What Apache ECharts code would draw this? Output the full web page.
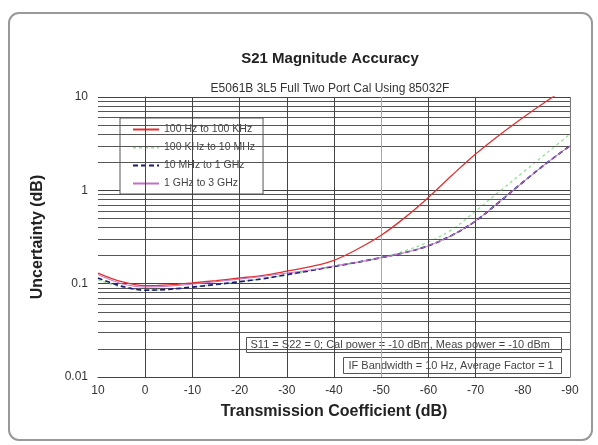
<!DOCTYPE html>
<html>
<head>
<meta charset="utf-8">
<script src="https://cdn.jsdelivr.net/npm/echarts@6/dist/echarts.min.js"></script>
<style>
  html, body { margin: 0; padding: 0; background: #fff; }
  #main { width: 598px; height: 445px; }
</style>
</head>
<body>
<div id="main"></div>
<script>
// S21 magnitude accuracy
const xValues = [10, 5, 0, -5, -10, -15, -20, -25, -30, -35, -40, -45, -50, -55, -60, -65, -70, -75, -80, -85, -90];
const red = [0.13, 0.105, 0.095, 0.097, 0.102, 0.108, 0.115, 0.123, 0.136, 0.152, 0.178, 0.235, 0.33, 0.51, 0.84, 1.45, 2.45, 3.9, 6.0, 9.0, 13.2];
const green = [0.11, 0.092, 0.085, 0.087, 0.092, 0.098, 0.105, 0.113, 0.124, 0.137, 0.152, 0.168, 0.19, 0.225, 0.28, 0.38, 0.6, 0.97, 1.55, 2.5, 4.0];
const blue = [0.115, 0.094, 0.085, 0.087, 0.092, 0.098, 0.105, 0.113, 0.125, 0.138, 0.153, 0.17, 0.19, 0.215, 0.255, 0.33, 0.47, 0.75, 1.22, 1.95, 3.0];
const magenta = [0.125, 0.1, 0.092, 0.094, 0.099, 0.105, 0.112, 0.12, 0.13, 0.14, 0.155, 0.17, 0.19, 0.215, 0.255, 0.33, 0.47, 0.75, 1.22, 1.95, 3.0];
const seriesNames = ['100 Hz to 100 KHz', '100 KHz to 10 MHz', '10 MHz to 1 GHz', '1 GHz to 3 GHz'];

const yTicks = [0.01, 0.1, 1, 10];
const xGridDark = [0, -10, -20, -30, -40, -60, -70];
const xGridLight = [-50];

const note1 = 'S11 = S22 = 0; Cal power = -10 dBm, Meas power = -10 dBm';
const note2 = 'IF Bandwidth = 10 Hz, Average Factor = 1';

// minor log grid: 2..9 in each decade
const yMinor = [];
yTicks.slice(0, -1).forEach(d => {
    for (let k = 2; k <= 9; k++) yMinor.push(+(d * k).toPrecision(3));
});

const pair = arr => xValues.map((x, i) => [x, arr[i]]);
const font = 'Liberation Sans, Arial, sans-serif';

const chart = echarts.init(document.getElementById('main'));

const gridLine = (axis, vals, color) => vals.map(v => ({ [axis]: v, lineStyle: { color: color, width: 1, type: 'solid' } }));

const option = {
    backgroundColor: '#fff',
    animation: false,
    title: [
        {
            text: 'S21 Magnitude Accuracy',
            left: 325, top: 46, textAlign: 'center',
            textStyle: { fontFamily: font, fontSize: 15, fontWeight: 'bold', color: '#222' }
        },
        {
            text: 'E5061B 3L5 Full Two Port Cal Using 85032F',
            left: 325, top: 78, textAlign: 'center',
            textStyle: { fontFamily: font, fontSize: 12, fontWeight: 'normal', color: '#333' }
        }
    ],
    grid: { left: 98, right: 28, top: 97, bottom: 68 },
    legend: {
        orient: 'vertical',
        left: 120, top: 118,
        padding: [6, 8, 5, 12],
        itemGap: 7,
        itemWidth: 26, itemHeight: 11,
        backgroundColor: '#fff',
        borderColor: '#555', borderWidth: 1,
        itemStyle: { opacity: 0 },
        textStyle: { fontFamily: font, fontSize: 10.5, color: '#444' },
        data: seriesNames
    },
    xAxis: {
        type: 'value',
        min: -90, max: 10, interval: 10,
        inverse: true,
        name: 'Transmission Coefficient (dB)',
        nameLocation: 'middle', nameGap: 27,
        nameTextStyle: { fontFamily: font, fontSize: 16, fontWeight: 'bold', color: '#222' },
        axisLine: { lineStyle: { color: '#444' } },
        axisTick: { show: false },
        axisLabel: { fontFamily: font, fontSize: 12, color: '#333', margin: 8 },
        splitLine: { show: false }
    },
    yAxis: {
        type: 'log', logBase: 10,
        min: 0.01, max: 10,
        name: 'Uncertainty (dB)',
        nameLocation: 'middle', nameGap: 52,
        nameTextStyle: { fontFamily: font, fontSize: 16, fontWeight: 'bold', color: '#222' },
        axisLine: { show: true, lineStyle: { color: '#444' } },
        axisTick: { show: false },
        axisLabel: { fontFamily: font, fontSize: 12, color: '#333', margin: 10 },
        splitLine: { show: true, lineStyle: { color: '#444', width: 1 } }
    },
    series: [
        {
            name: seriesNames[0], type: 'line', data: pair(red),
            smooth: 0.35, symbol: 'none',
            lineStyle: { color: '#e23030', width: 1.3 }, itemStyle: { color: '#e23030' },
            z: 5,
            markLine: {
                silent: true, symbol: 'none', label: { show: false }, animation: false,
                data: [].concat(
                    gridLine('yAxis', yMinor, '#555'),
                    gridLine('xAxis', xGridDark, '#444'),
                    gridLine('xAxis', xGridLight, '#aaa'),
                    gridLine('xAxis', [-90], '#777')
                )
            }
        },
        {
            name: seriesNames[1], type: 'line', data: pair(green),
            smooth: 0.35, symbol: 'none',
            lineStyle: { color: '#8fe08f', width: 1.2, type: [3, 3] }, itemStyle: { color: '#8fe08f' },
            z: 4
        },
        {
            name: seriesNames[2], type: 'line', data: pair(blue),
            smooth: 0.35, symbol: 'none',
            lineStyle: { color: '#1c1c78', width: 1.7, type: [5, 3] }, itemStyle: { color: '#1c1c78' },
            z: 6
        },
        {
            name: seriesNames[3], type: 'line', data: pair(magenta),
            smooth: 0.35, symbol: 'none',
            lineStyle: { color: '#c070c8', width: 1 }, itemStyle: { color: '#c070c8' },
            z: 7
        }
    ],
    graphic: [
        {
            type: 'rect', left: 8, top: 12, z: -10, silent: true,
            shape: { width: 583, height: 427, r: 10 },
            style: { fill: '#fff', stroke: '#999', lineWidth: 2 }
        },
        {
            type: 'group', left: 246, top: 337, z: 20,
            children: [
                { type: 'rect', shape: { width: 315, height: 15 }, style: { fill: '#fff', stroke: '#555', lineWidth: 1 } },
                { type: 'text', x: 4, y: 2, style: { text: note1, font: '11px ' + font, fill: '#444' } }
            ]
        },
        {
            type: 'group', left: 343, top: 357, z: 20,
            children: [
                { type: 'rect', shape: { width: 218, height: 16 }, style: { fill: '#fff', stroke: '#555', lineWidth: 1 } },
                { type: 'text', x: 5, y: 2.5, style: { text: note2, font: '11px ' + font, fill: '#444' } }
            ]
        }
    ]
};

chart.setOption(option);
</script>
</body>
</html>
